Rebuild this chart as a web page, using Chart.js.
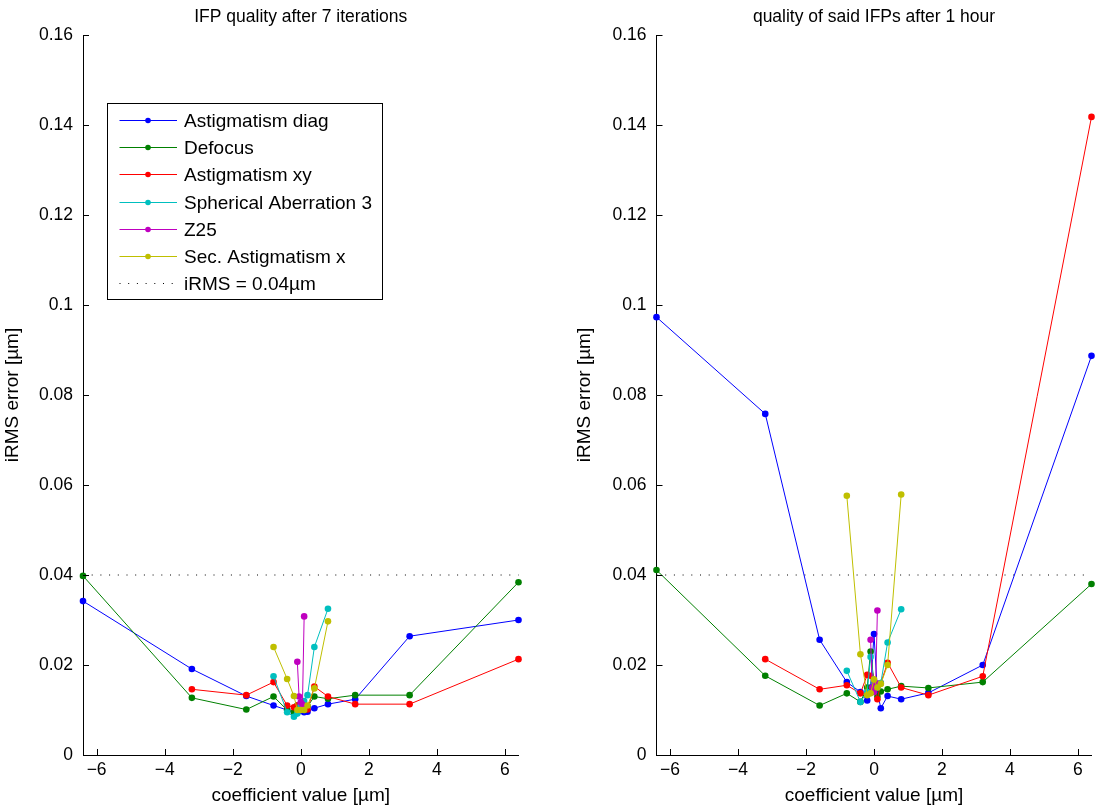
<!DOCTYPE html>
<html><head><meta charset="utf-8">
<script src="https://cdn.jsdelivr.net/npm/chart.js@4.4.1/dist/chart.umd.min.js"></script>
<style>
html,body{margin:0;padding:0;background:#fff;}
#wrap{position:relative;width:1096px;height:809px;overflow:hidden;}
canvas{position:absolute;top:0;}
</style></head><body>
<div id="wrap">
<canvas id="c1" width="548" height="809" style="left:0"></canvas>
<canvas id="c2" width="548" height="809" style="left:548px"></canvas>
</div>
<script>
// ---------------- data ----------------
const xWide   = [-6.4,-3.2,-1.6,-0.8,-0.4,-0.2,-0.1,0,0.1,0.2,0.4,0.8,1.6,3.2,6.4];
const xAstXY  = [-3.2,-1.6,-0.8,-0.4,-0.2,-0.1,0,0.1,0.2,0.4,0.8,1.6,3.2,6.4];
const xNarrow = [-0.8,-0.4,-0.2,-0.1,0,0.1,0.2,0.4,0.8];
const xZ25    = [-0.1,-0.05,0,0.05,0.1];
const xLimit  = [-6.4,6.4];

const seriesNames = ['Astigmatism diag','Defocus','Astigmatism xy','Spherical Aberration 3','Z25','Sec. Astigmatism x'];
const limitName = 'iRMS = 0.04\u00b5m';
const limitValue = [0.04,0.04];

// panel 1: after 7 iterations
const astDiag7 = [0.0342,0.0191,0.0131,0.0110,0.0100,0.0094,0.0100,0.0098,0.0095,0.0096,0.0104,0.0113,0.0124,0.0264,0.0300];
const defocus7 = [0.0398,0.0127,0.0101,0.0130,0.0100,0.0095,0.0110,0.0105,0.0100,0.0108,0.0130,0.0125,0.0133,0.0133,0.0384];
const astXY7   = [0.0146,0.0133,0.0162,0.0110,0.0106,0.0110,0.0112,0.0108,0.0101,0.0152,0.0130,0.0113,0.0113,0.0213];
const sph7     = [0.0175,0.0095,0.0085,0.0092,0.0110,0.0120,0.0133,0.0240,0.0325];
const z25_7    = [0.0207,0.0130,0.0117,0.0112,0.0308];
const secAst7  = [0.0240,0.0169,0.0131,0.0100,0.0100,0.0100,0.0110,0.0148,0.0297];

// panel 2: after 1 hour
const astDiag1h = [0.0973,0.0758,0.0256,0.0162,0.0140,0.0121,0.0150,0.0269,0.0140,0.0104,0.0131,0.0124,0.0138,0.0200,0.0887];
const defocus1h = [0.0411,0.0176,0.0110,0.0137,0.0118,0.0150,0.0230,0.0160,0.0130,0.0141,0.0146,0.0153,0.0149,0.0162,0.0380];
const astXY1h   = [0.0213,0.0146,0.0155,0.0137,0.0178,0.0176,0.0150,0.0124,0.0160,0.0205,0.0150,0.0133,0.0175,0.1418];
const sph1h     = [0.0187,0.0118,0.0140,0.0218,0.0160,0.0150,0.0160,0.0250,0.0324];
const z25_1h    = [0.0256,0.0150,0.0140,0.0160,0.0321];
const secAst1h  = [0.0576,0.0224,0.0133,0.0137,0.0168,0.0150,0.0158,0.0200,0.0579];

const colors = ['#0000ff','#008000','#ff0000','#00bfbf','#bf00bf','#bfbf00'];

// ---------------- helpers ----------------
const FONT = '"Liberation Sans", Arial, Helvetica, sans-serif';
Chart.defaults.font.family = FONT;
Chart.defaults.color = '#000';

function pts(xs, ys){ return xs.map((x,i)=>({x:x, y:ys[i]})); }

function buildDatasets(xsList, ysList){
  const ds = ysList.map((ys,i)=>({
    label: seriesNames[i],
    data: pts(xsList[i], ys),
    showLine: true,
    borderColor: colors[i],
    backgroundColor: colors[i],
    borderWidth: 1,
    pointRadius: 3.3,
    pointBorderWidth: 0,
    pointBackgroundColor: colors[i],
    clip: false,
    order: 10 - i
  }));
  ds.push({
    label: limitName,
    data: pts(xLimit, limitValue),
    showLine: true,
    borderColor: '#000',
    borderWidth: 1,
    borderDash: [1, 7.7],
    pointRadius: 0,
    clip: false,
    order: 20
  });
  return ds;
}

const inwardTicks = {
  id: 'inwardTicks',
  afterDatasetsDraw(chart){
    const {ctx, chartArea:a} = chart;
    const xs = chart.scales.x, ys = chart.scales.y;
    ctx.save();
    ctx.strokeStyle = '#000'; ctx.lineWidth = 1;
    ctx.beginPath();
    xs.ticks.forEach(t=>{ const px = Math.round(xs.getPixelForValue(t.value))+0.5; ctx.moveTo(px,a.bottom); ctx.lineTo(px,a.bottom-6); });
    ys.ticks.forEach(t=>{ const py = Math.round(ys.getPixelForValue(t.value))+0.5; ctx.moveTo(a.left,py); ctx.lineTo(a.left+6,py); });
    ctx.stroke();
    ctx.restore();
  }
};

const panelTitle = {
  id: 'panelTitle',
  afterDraw(chart, args, opts){
    const {ctx, chartArea:a} = chart;
    ctx.save();
    ctx.font = '17.5px ' + FONT;
    ctx.fillStyle = '#000';
    ctx.textAlign = 'center';
    ctx.textBaseline = 'middle';
    ctx.fillText(opts.text, (a.left+a.right)/2, 17);
    ctx.restore();
  }
};

const legendBox = {
  id: 'legendBox',
  afterDraw(chart, args, opts){
    if (!opts.show) return;
    const ctx = chart.ctx;
    const L = 107.5, T = 103.5, W = 275, H = 196;
    ctx.save();
    ctx.fillStyle = '#fff'; ctx.fillRect(L,T,W,H);
    ctx.strokeStyle = '#000'; ctx.lineWidth = 1; ctx.setLineDash([]); ctx.strokeRect(L,T,W,H);
    ctx.font = '19px ' + FONT;
    ctx.textBaseline = 'middle';
    ctx.textAlign = 'left';
    chart.data.datasets.forEach((ds,i)=>{
      const yy = Math.round(120 + i*27.2) + 0.5;
      ctx.strokeStyle = ds.borderColor;
      ctx.lineWidth = 1;
      ctx.setLineDash(ds.borderDash || []);
      ctx.beginPath(); ctx.moveTo(119.5, yy); ctx.lineTo(177, yy); ctx.stroke();
      ctx.setLineDash([]);
      if (ds.pointRadius > 0){
        ctx.fillStyle = ds.borderColor;
        ctx.beginPath(); ctx.arc(148, yy, 2.8, 0, Math.PI*2); ctx.fill();
      }
      ctx.fillStyle = '#000';
      ctx.fillText(ds.label, 184, yy + 1);
    });
    ctx.restore();
  }
};

function makeChart(id, title, datasets, yWidth, padRight, yTitlePad, showLegend){
  return new Chart(document.getElementById(id), {
    type: 'scatter',
    data: { datasets: datasets },
    plugins: [inwardTicks, panelTitle, legendBox],
    options: {
      responsive: false,
      animation: false,
      events: [],
      layout: { padding: { left: 0, right: padRight, top: 35, bottom: 0 } },
      plugins: {
        legend: { display: false },
        tooltip: { enabled: false },
        title: { display: false },
        panelTitle: { text: title },
        legendBox: { show: showLegend }
      },
      scales: {
        x: {
          type: 'linear', min: -6.4, max: 6.4,
          grid: { display: false, drawTicks: false },
          border: { display: true, color: '#000', width: 1 },
          ticks: {
            stepSize: 2, includeBounds: false, padding: 5, autoSkip: false, maxRotation: 0,
            font: { size: 17.5 }, color: '#000',
            callback: v => (v < 0 ? '\u2212' : '') + Math.abs(v)
          },
          title: { display: true, text: 'coefficient value [\u00b5m]', font: { size: 19 }, color: '#000', padding: { top: 0, bottom: 1.5 } },
          afterFit: s => { s.height = 54; }
        },
        y: {
          type: 'linear', min: 0, max: 0.16,
          grid: { display: false, drawTicks: false },
          border: { display: true, color: '#000', width: 1 },
          ticks: {
            stepSize: 0.02, includeBounds: false, padding: 10, autoSkip: false,
            font: { size: 17.5 }, color: '#000',
            callback: v => String(parseFloat(Number(v).toFixed(2)))
          },
          title: { display: true, text: 'iRMS error [\u00b5m]', font: { size: 19 }, color: '#000', padding: { top: yTitlePad, bottom: 0 } },
          afterFit: s => { s.width = yWidth; }
        }
      }
    }
  });
}

makeChart('c1', 'IFP quality after 7 iterations',
  buildDatasets([xWide, xWide, xAstXY, xNarrow, xZ25, xNarrow], [astDiag7, defocus7, astXY7, sph7, z25_7, secAst7]),
  83, 29.5, 1, true);

makeChart('c2', 'quality of said IFPs after 1 hour',
  buildDatasets([xWide, xWide, xAstXY, xNarrow, xZ25, xNarrow], [astDiag1h, defocus1h, astXY1h, sph1h, z25_1h, secAst1h]),
  108.5, 4.5, 25.6, false);
</script>
</body></html>
